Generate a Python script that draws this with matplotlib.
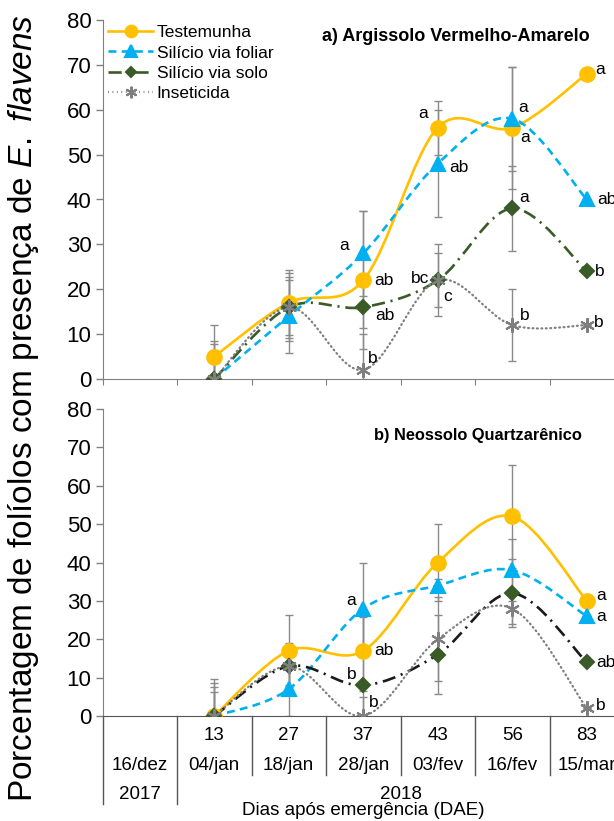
import matplotlib
matplotlib.use("Agg")
import matplotlib.pyplot as plt
from matplotlib.path import Path
from matplotlib.patches import PathPatch
from matplotlib.lines import Line2D

plt.rcParams['font.family'] = ['Liberation Sans', 'DejaVu Sans']
plt.rcParams['mathtext.fontset'] = 'custom'
plt.rcParams['mathtext.it'] = 'Liberation Sans:italic'
plt.rcParams['mathtext.rm'] = 'Liberation Sans'

# dias apos emergencia, datas e anos
dae = ['', '13', '27', '37', '43', '56', '83']
datas = ['16/dez', '04/jan', '18/jan', '28/jan', '03/fev', '16/fev', '15/mar']
anos = ['2017', '2018']
x = [1, 2, 3, 4, 5, 6]

tratamentos = ['Testemunha', 'Silício via foliar', 'Silício via solo', 'Inseticida']

# a) Argissolo Vermelho-Amarelo
a_test = [5, 17, 22, 56, 56, 68]
a_foli = [0, 14, 28, 48, 58, 40]
a_solo = [0, 16, 16, 22, 38, 24]
a_inse = [0, 16, 2, 22, 12, 12]
a_err_test = [7, 7.3, 15.4, 6, 13.6, 0]
a_err_foli = [8.5, 8.1, 9.4, 12, 11.6, 0]
a_err_solo = [7.8, 7.6, 4.7, 8, 9.4, 0]
a_err_inse = [6.5, 6.8, 8, 6, 8, 0]
a_let_test = ['', '', 'ab', 'a', 'a', 'a']
a_let_foli = ['', '', 'a', 'ab', 'a', 'ab']
a_let_solo = ['', '', 'ab', 'bc', 'a', 'b']
a_let_inse = ['', '', 'b', 'c', 'b', 'b']

# b) Neossolo Quartzarenico
b_test = [0, 17, 17, 40, 52, 30]
b_foli = [0, 7, 28, 34, 38, 26]
b_solo = [0, 13, 8, 16, 32, 14]
b_inse = [0, 13, 0, 20, 28, 2]
b_err_test = [9.7, 9.4, 10.4, 10, 13.4, 0]
b_err_foli = [8.7, 7, 12, 1.6, 8, 0]
b_err_solo = [7.5, 6, 17.9, 10.2, 8.9, 0]
b_err_inse = [6.3, 5, 5, 11, 4, 0]
b_let_test = ['', '', 'ab', '', '', 'a']
b_let_foli = ['', '', 'a', '', '', 'a']
b_let_solo = ['', '', 'b', '', '', 'ab']
b_let_inse = ['', '', 'b', '', '', 'b']

cores = ['#FFC000', '#00B0F0', '#3A5A28', '#7F7F7F']
marcadores = ['o', '^', 'D', (6, 2, 0)]
tam = [10.5, 10, 7, 10.5]
estilos = ['-', (0, (3, 2)), (0, (5, 2.2, 0.8, 2.2)), (0, (0.4, 1.6))]
larg = [1.9, 1.9, 1.9, 1.6]


def suave(xs, ys):
    # curva suavizada (bezier) passando pelos pontos
    pts = list(zip(xs, ys))
    n = len(pts)
    verts = [pts[0]]
    codes = [Path.MOVETO]
    for i in range(n - 1):
        p0 = pts[i - 1] if i > 0 else pts[i]
        p1 = pts[i]
        p2 = pts[i + 1]
        p3 = pts[i + 2] if i + 2 < n else pts[i + 1]
        c1 = (p1[0] + (p2[0] - p0[0]) / 6, p1[1] + (p2[1] - p0[1]) / 6)
        c2 = (p2[0] - (p3[0] - p1[0]) / 6, p2[1] - (p3[1] - p1[1]) / 6)
        verts += [c1, c2, p2]
        codes += [Path.CURVE4] * 3
    return Path(verts, codes)


def painel(ax, series, erros, letras, desl, cor_solo):
    for k in range(4):
        ax.errorbar(x, series[k], yerr=erros[k], fmt='none', ecolor='#8A8A8A',
                    elinewidth=1.0, capsize=3, capthick=1.0, zorder=1)
    for k in range(4):
        cor_linha = cores[k] if k != 2 else cor_solo
        patch = PathPatch(suave(x, series[k]), fill=False, edgecolor=cor_linha,
                          lw=larg[k], linestyle=estilos[k], zorder=2 + k * 0.1,
                          capstyle='round' if k == 3 else 'butt')
        ax.add_patch(patch)
        ax.plot(x, series[k], linestyle='none', marker=marcadores[k], ms=tam[k],
                color=cores[k], mec=cores[k], mew=1.5, zorder=3 + k * 0.1)
        for i, t in enumerate(letras[k]):
            if t:
                dx, dy = desl.get((k, i), (14, 0))
                ax.annotate(t, (x[i], series[k][i]), xytext=(dx, dy),
                            textcoords='offset pixels', ha='center', va='center',
                            fontsize=12.5, color='black', zorder=5)
    ax.set_xlim(-0.5, 6.5)
    ax.set_ylim(0, 80)
    ax.set_yticks(range(0, 81, 10))
    ax.spines['top'].set_visible(False)
    ax.spines['right'].set_visible(False)
    ax.spines['left'].set_color('#808080')
    ax.spines['bottom'].set_color('#808080')
    ax.tick_params(axis='y', colors='#808080', labelcolor='black', labelsize=16,
                   length=5, width=1, pad=3)


W, H = 614, 821
fig = plt.figure(figsize=(W / 100, H / 100), dpi=100)
esq = 102.5 / W
larg_ax = (624 - 102.5) / W
ax1 = fig.add_axes([esq, 1 - 379 / H, larg_ax, (379 - 20) / H])
ax2 = fig.add_axes([esq, 1 - 716 / H, larg_ax, (716 - 409) / H])

desl_a = {
    (0, 2): (21, 0), (0, 3): (-15, 14), (0, 4): (13, -10), (0, 5): (13, 4),
    (1, 2): (-19, 8), (1, 3): (21, -4), (1, 4): (11, 11), (1, 5): (20, 0),
    (2, 2): (22, -8), (2, 3): (-18, 2), (2, 4): (12, 11), (2, 5): (13, 0),
    (3, 2): (9, 12), (3, 3): (10, -16), (3, 4): (12, 10), (3, 5): (12, 3),
}
desl_b = {
    (0, 2): (21, 0), (0, 5): (14, 5),
    (1, 2): (-12, 8), (1, 5): (14, 0),
    (2, 2): (-12, 11), (2, 5): (19, 0),
    (3, 2): (10, 14), (3, 5): (14, 3),
}

painel(ax1, [a_test, a_foli, a_solo, a_inse],
       [a_err_test, a_err_foli, a_err_solo, a_err_inse],
       [a_let_test, a_let_foli, a_let_solo, a_let_inse], desl_a, cores[2])
painel(ax2, [b_test, b_foli, b_solo, b_inse],
       [b_err_test, b_err_foli, b_err_solo, b_err_inse],
       [b_let_test, b_let_foli, b_let_solo, b_let_inse], desl_b, '#1A1A1A')

# eixo x do painel a: marcas entre categorias
ax1.set_xticks([i + 0.5 for i in range(-1, 6)])
ax1.tick_params(axis='x', colors='#808080', labelbottom=False, length=4,
                direction='out')
ax1.text(4.245, 76.4, 'a) Argissolo Vermelho-Amarelo', ha='center',
         va='center', fontsize=13, fontweight='bold')
ax2.text(4.54, 73.1, 'b) Neossolo Quartzarênico', ha='center', va='center',
         fontsize=11.8, fontweight='bold')

# tabela de datas sob o painel b
ax2.set_xticks([])
ax2.spines['bottom'].set_color('#555555')
tr = ax2.get_xaxis_transform()
hb = 716 - 409
for i in range(7):
    ax2.text(i, -19 / hb, dae[i], transform=tr, ha='center', va='center',
             fontsize=13.5)
    ax2.text(i, -49 / hb, datas[i], transform=tr, ha='center', va='center',
             fontsize=13.5)
for i in range(7):
    xb = i - 0.5
    fim = -88 / hb if i < 2 else -59 / hb
    ax2.plot([xb, xb], [0, fim], transform=tr, color='#555555', lw=1,
             clip_on=False)
ax2.text(0, -78 / hb, anos[0], transform=tr, ha='center', va='center',
         fontsize=13.5)
ax2.text(3.5, -78 / hb, anos[1], transform=tr, ha='center', va='center',
         fontsize=13.5)
ax2.text(363 / W, 1 - 810 / H, 'Dias após emergência (DAE)', ha='center',
         va='center', fontsize=13.5, transform=fig.transFigure)

fig.text(24 / W, 1 - 408 / H,
         r'Porcentagem de folíolos com presença de $\mathit{E.\ flavens}$',
         rotation=90, ha='center', va='center', fontsize=24)

alcas = []
for k in range(4):
    alcas.append(Line2D([], [], color=cores[k], lw=larg[k], linestyle=estilos[k],
                        marker=marcadores[k], ms=tam[k] * 0.8, mew=1.5))
ax1.legend(alcas, tratamentos, loc='upper left', frameon=False, fontsize=12.5,
           handlelength=2.6, handletextpad=0.2, labelspacing=0.3,
           bbox_to_anchor=(108 / W, 1 - 25 / H), bbox_transform=fig.transFigure,
           borderaxespad=0, borderpad=0)

fig.savefig('out.png', dpi=100)
